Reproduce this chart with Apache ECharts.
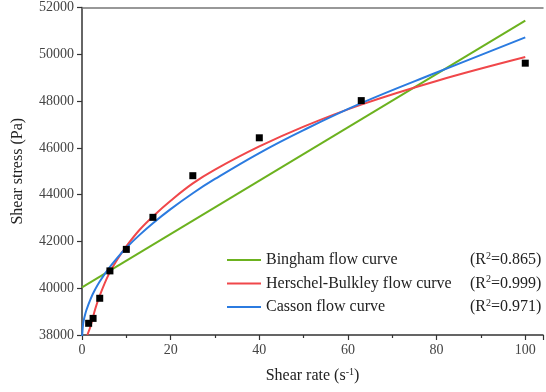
<!DOCTYPE html>
<html>
<head>
<meta charset="utf-8">
<script src="https://cdn.jsdelivr.net/npm/echarts@6/dist/echarts.min.js"></script>
<style>html,body{margin:0;padding:0;background:#fff}#c{width:546px;height:392px}</style>
</head>
<body>
<div id="c"></div>
<script>
// Measured data points
const shearRate = [1.5, 2.5, 4, 6.3, 10, 16, 25, 40, 63, 100];
const shearStress = [38500, 38710, 39570, 40740, 41660, 43030, 44810, 46430, 48020, 49620];

// Bingham flow curve
const binghamX = [0, 100];
const binghamY = [40040, 51440];

// Herschel-Bulkley flow curve
const hbX = [1.2, 2, 3, 4, 6, 8, 10, 13, 16, 20, 25, 30, 40, 50, 63, 80, 100];
const hbY = [38000, 38420, 39120, 39680, 40580, 41240, 41790, 42500, 43070, 43740, 44480, 45070, 46060, 46910, 47850, 48860, 49880];

// Casson flow curve
const cassonX = [0, 0.25, 0.5, 1, 2, 3, 4, 6, 8, 10, 13, 16, 20, 25, 30, 40, 50, 63, 80, 100];
const cassonY = [37870, 38470, 38720, 39070, 39570, 39960, 40290, 40840, 41310, 41730, 42280, 42780, 43380, 44060, 44670, 45780, 46760, 47910, 49220, 50720];

const seriesNames = ['Bingham flow curve', 'Herschel-Bulkley flow curve', 'Casson flow curve'];
const r2Values = ['0.865', '0.999', '0.971'];

const xTicks = [0, 20, 40, 60, 80, 100];

const zip = (xs, ys) => xs.map((x, i) => [x, ys[i]]);

const serif = '"Liberation Serif", serif';
const tickRich = {t: {fontFamily: serif, fontSize: 14, color: '#444'}};
const chart = echarts.init(document.getElementById('c'), null, {renderer: 'canvas'});

chart.setOption({
  animation: false,
  backgroundColor: '#fff',
  textStyle: {fontFamily: serif},
  grid: {left: 82, right: 0, top: 7.5, bottom: 57, containLabel: false},
  xAxis: [{
    type: 'value', min: 0, max: 104, interval: 20,
    axisLine: {show: true, lineStyle: {color: '#333', width: 1.5}},
    axisTick: {show: true, inside: false, length: 5, lineStyle: {color: '#333', width: 1.2}},
    minorTick: {show: true, splitNumber: 2, length: 3, lineStyle: {color: '#333', width: 1.2}},
    splitLine: {show: false},
    axisLabel: {
      fontFamily: serif, fontSize: 14, color: '#444', margin: 8, rich: tickRich,
      formatter: v => (xTicks.indexOf(v) >= 0 ? '{t|' + v + '}' : '')
    },
    name: 'Shear rate (s{sup|-1})',
    nameLocation: 'middle', nameGap: 32,
    nameTextStyle: {
      fontFamily: serif, fontSize: 16, color: '#222',
      rich: {sup: {fontFamily: serif, fontSize: 10, color: '#222', verticalAlign: 'top', padding: [0, 0, 8, 0]}}
    }
  }, {
    type: 'value', min: 0, max: 104, position: 'top',
    axisLine: {show: true, onZero: false, lineStyle: {color: '#777', width: 1.5}},
    axisTick: {show: false}, axisLabel: {show: false}, splitLine: {show: false}
  }],
  yAxis: {
    type: 'value', min: 38000, max: 52000, interval: 2000,
    axisLine: {show: true, lineStyle: {color: '#333', width: 1.5}},
    axisTick: {show: true, inside: false, length: 5, lineStyle: {color: '#333', width: 1.2}},
    splitLine: {show: false},
    axisLabel: {fontFamily: serif, fontSize: 14, color: '#444', margin: 8, rich: tickRich, formatter: v => '{t|' + v + '}'},
    name: 'Shear stress (Pa)',
    nameLocation: 'middle', nameGap: 56, nameRotate: 90,
    nameTextStyle: {fontFamily: serif, fontSize: 16, color: '#222'}
  },
  legend: {
    data: seriesNames,
    left: 222, top: 246, orient: 'vertical',
    icon: 'rect', itemWidth: 34, itemHeight: 2, itemGap: 5.5,
    backgroundColor: 'transparent',
    textStyle: {
      fontFamily: serif, fontSize: 16, color: '#222', lineHeight: 18, padding: [0, 0, 0, 0],
      rich: {
        n: {fontFamily: serif, fontSize: 16, color: '#222', width: 204, lineHeight: 18},
        r: {fontFamily: serif, fontSize: 16, color: '#222', lineHeight: 18},
        sup: {fontFamily: serif, fontSize: 10, color: '#222', verticalAlign: 'top', lineHeight: 18, padding: [0, 0, 6, 0]}
      }
    },
    formatter: name => {
      const i = seriesNames.indexOf(name);
      return '{n|' + name + '}{r|(R}{sup|2}{r|=' + r2Values[i] + ')}';
    }
  },
  series: [
    {
      name: seriesNames[0], type: 'line', data: zip(binghamX, binghamY),
      symbol: 'none', lineStyle: {color: '#6cb21f', width: 2}, itemStyle: {color: '#6cb21f'}, z: 3
    },
    {
      name: seriesNames[1], type: 'line', data: zip(hbX, hbY), smooth: 0.4,
      symbol: 'none', lineStyle: {color: '#f0474a', width: 2}, itemStyle: {color: '#f0474a'}, z: 4
    },
    {
      name: seriesNames[2], type: 'line', data: zip(cassonX, cassonY), smooth: 0.4,
      symbol: 'none', lineStyle: {color: '#2b7be0', width: 2}, itemStyle: {color: '#2b7be0'}, z: 5
    },
    {
      name: 'Measured', type: 'scatter', data: zip(shearRate, shearStress),
      symbol: 'rect', symbolSize: 7, itemStyle: {color: '#000', opacity: 1}, z: 6
    }
  ]
});
</script>
</body>
</html>
